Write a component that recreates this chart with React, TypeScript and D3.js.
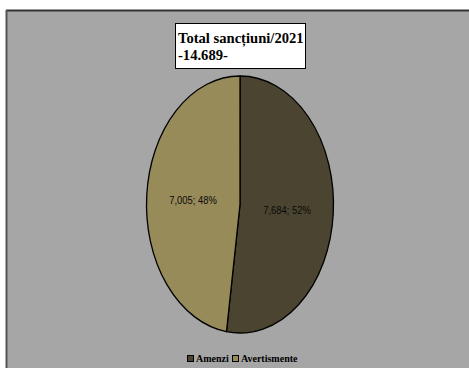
import React from "react";
import * as d3 from "d3";

const categories = ["Amenzi", "Avertismente"];
const values = [7684, 7005];
const colors = ["#4a4430", "#978b59"];
const titleLines = ["Total sancțiuni/2021", "-14.689-"];

const SERIF = "Liberation Serif";
const SANS = "Liberation Sans";

export default function App() {
  const W = 469, H = 368;
  const cx = 240, cy = 204.5, rx = 93.5, ry = 128.5;
  const total = d3.sum(values);
  const pie = d3.pie<number>().sort(null).value((d) => d)(values);
  const arc = d3.arc<d3.PieArcDatum<number>>().innerRadius(0).outerRadius(rx);
  const fmt = d3.format(",");
  const labelPos = [
    [287, 214],
    [193, 204],
  ];
  return (
    <svg width={W} height={H} style={{ position: "absolute", left: 0, top: 0 }}>
      <rect x={0} y={0} width={W} height={H} fill="#ffffff" />
      <rect x={6} y={10} width={W} height={H} fill="#a6a6a6" />
      <line x1={6} y1={10.5} x2={W} y2={10.5} stroke="#333" strokeWidth={2} />
      <line x1={6.5} y1={10} x2={6.5} y2={H} stroke="#555" strokeWidth={2} />
      <g transform={`translate(${cx},${cy}) scale(1,${ry / rx})`}>
        {pie.map((p, i) => (
          <path key={i} d={arc(p) || ""} fill={colors[i]} stroke="#000" strokeWidth={1.3} vectorEffect="non-scaling-stroke" />
        ))}
      </g>
      {pie.map((p, i) => (
        <text
          key={i}
          transform={`translate(${labelPos[i][0]},${labelPos[i][1]}) scale(0.82,1)`}
          textAnchor="middle"
          style={{ fontFamily: SANS, fontSize: "11.5px" }}
          fill="#0a0a0a"
        >
          {`${fmt(values[i])}; ${Math.round((values[i] / total) * 100)}%`}
        </text>
      ))}
      <rect x={175.5} y={23.5} width={130} height={45} fill="#fff" stroke="#000" strokeWidth={1} />
      {titleLines.map((t, i) => (
        <text
          key={i}
          x={178}
          y={43 + i * 17}
          style={{ fontFamily: SERIF, fontWeight: "bold", fontSize: "14.6px" }}
          fill="#000"
        >
          {t}
        </text>
      ))}
      {categories.map((c, i) => {
        const x0 = [187, 232][i];
        return (
          <g key={c}>
            <rect x={x0 + 0.5} y={355.5} width={6} height={6} fill={colors[i]} stroke="#000" strokeWidth={1} />
            <text
              x={x0 + 9}
              y={362}
              style={{ fontFamily: SERIF, fontWeight: "bold", fontSize: "10px" }}
              fill="#000"
            >
              {c}
            </text>
          </g>
        );
      })}
    </svg>
  );
}
